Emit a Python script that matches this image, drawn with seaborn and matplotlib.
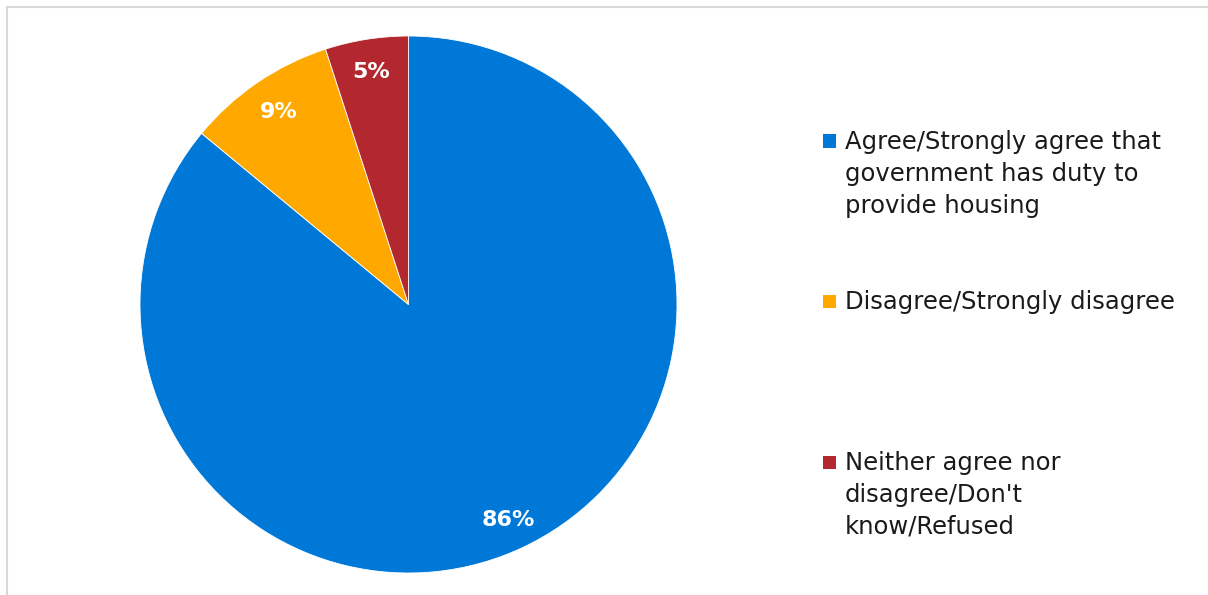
import matplotlib
matplotlib.use("Agg")
import matplotlib.pyplot as plt
import seaborn as sns
from matplotlib.patches import Rectangle
from matplotlib.lines import Line2D

sns.set_theme(style="white")
plt.rcParams['font.family'] = ['DejaVu Sans']

categories = [
    "Agree/Strongly agree that\ngovernment has duty to\nprovide housing",
    "Disagree/Strongly disagree",
    "Neither agree nor\ndisagree/Don't\nknow/Refused",
]
values = [86, 9, 5]
value_labels = ["86%", "9%", "5%"]
colors = ["#0078D7", "#FFA900", "#B3282F"]

W, H = 1208, 595
fig = plt.figure(figsize=(W / 100, H / 100), dpi=100)

# frame (top and left visible)
fig.add_artist(Line2D([7 / W, 7 / W], [0, 1 - 7 / H], color="#D9D9D9", lw=1.5))
fig.add_artist(Line2D([7 / W, 1], [1 - 7 / H, 1 - 7 / H], color="#D9D9D9", lw=1.5))

ax = fig.add_axes([140 / W, 22 / H, 537 / W, 537 / H])
wedges, _ = ax.pie(values, colors=colors, startangle=90, counterclock=False,
                   radius=1.0, wedgeprops=dict(edgecolor="white", linewidth=0.6))
ax.set_xlim(-1, 1)
ax.set_ylim(-1, 1)
ax.set_aspect("equal")
ax.axis("off")

# data labels
label_pos = [(508, 520), (279, 112), (371, 72)]
for (px, py), t in zip(label_pos, value_labels):
    fig.text(px / W, 1 - py / H, t, color="white", fontsize=16, fontweight="bold",
             ha="center", va="center")

# legend
entry_first_line_y = [141, 301, 462]
for lab, col, y in zip(categories, colors, entry_first_line_y):
    fig.add_artist(Rectangle((823 / W, 1 - (y + 6.5) / H), 13 / W, 13 / H,
                             facecolor=col, edgecolor="none", transform=fig.transFigure))
    fig.text(845 / W, 1 - (y - 11) / H, lab, color="#1a1a1a", fontsize=17.5,
             ha="left", va="top", linespacing=1.42)

fig.savefig("out.png", dpi=100, facecolor="white")
